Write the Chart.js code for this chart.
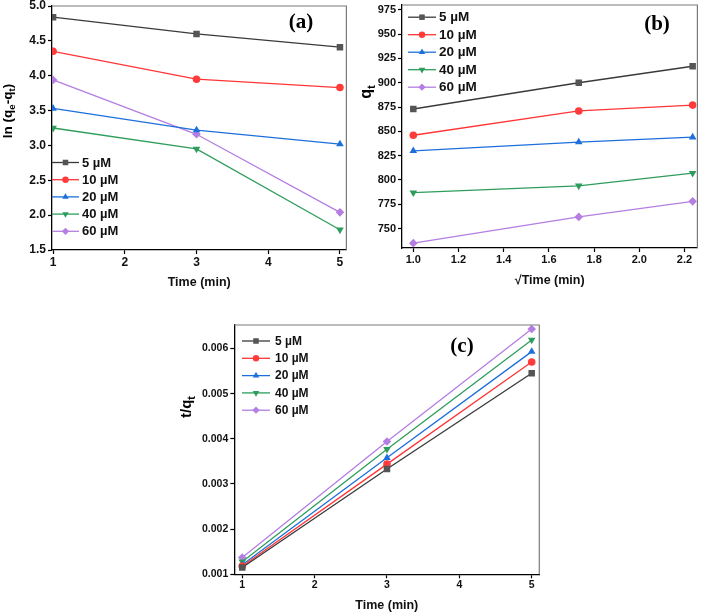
<!DOCTYPE html>
<html>
<head>
<meta charset="utf-8">
<script src="https://cdn.jsdelivr.net/npm/chart.js@4.4.0/dist/chart.umd.min.js"></script>
<style>
  body { margin: 0; background: #fff; width: 702px; height: 616px; position: relative; overflow: hidden; }
  canvas { position: absolute; }
</style>
</head>
<body>
<canvas id="chartA" width="351" height="300" style="left:0;top:0"></canvas>
<canvas id="chartB" width="351" height="300" style="left:351px;top:0"></canvas>
<canvas id="chartC" width="370" height="316" style="left:180px;top:300px"></canvas>
<script>
// series shared by all three panels
var seriesNames = ['5 \u00b5M', '10 \u00b5M', '20 \u00b5M', '40 \u00b5M', '60 \u00b5M'];
var seriesColors = ['#3a3a3a', '#ff3535', '#1d6fdc', '#2e9d5c', '#b47ee2'];
var markerColors = ['#555555', '#ff3b3b', '#1d6fdc', '#2e9d5c', '#b47ee2'];
var pointStyles = ['rect', 'circle', 'triangle', 'triangle', 'rectRot'];
var pointRotations = [0, 0, 0, 180, 0];
var pointSizes = [4.6, 3.8, 4.4, 4.4, 4.3];

// (a) pseudo first order
var timeA = [1, 3, 5];
var lnA = [
  [4.84, 4.60, 4.41],
  [4.35, 3.95, 3.83],
  [3.53, 3.22, 3.02],
  [3.25, 2.95, 1.79],
  [3.94, 3.16, 2.04]
];
var ticksAx = [1, 2, 3, 4, 5];
var ticksAy = [1.5, 2.0, 2.5, 3.0, 3.5, 4.0, 4.5, 5.0];

// (b) intraparticle diffusion
var sqrtTimeB = [1, 1.732, 2.236];
var qtB = [
  [873, 900, 917],
  [846, 871, 877],
  [830, 839, 844],
  [787, 794, 807],
  [735, 762, 778]
];
var ticksBx = [1.0, 1.2, 1.4, 1.6, 1.8, 2.0, 2.2];
var ticksBy = [750, 775, 800, 825, 850, 875, 900, 925, 950, 975];

// (c) pseudo second order
var timeC = [1, 3, 5];
var tqC = [
  [0.00115, 0.00333, 0.00545],
  [0.00118, 0.00344, 0.00570],
  [0.00121, 0.00358, 0.00593],
  [0.00128, 0.00377, 0.00619],
  [0.00137, 0.00394, 0.00643]
];
var ticksCx = [1, 2, 3, 4, 5];
var ticksCy = [0.001, 0.002, 0.003, 0.004, 0.005, 0.006];

var FONT = "'Liberation Sans', Arial, sans-serif";

// draws text made of [string, isSubscript] parts, rotated for y titles
function drawRich(ctx, parts, cx, cy, size, rotate) {
  ctx.save();
  ctx.translate(cx, cy);
  if (rotate) ctx.rotate(-Math.PI / 2);
  ctx.fillStyle = '#000';
  ctx.textBaseline = 'middle';
  ctx.textAlign = 'left';
  var total = 0;
  parts.forEach(function (p) {
    ctx.font = 'bold ' + (p[1] ? size * 0.72 : size) + 'px ' + FONT;
    total += ctx.measureText(p[0]).width;
  });
  var x = -total / 2;
  parts.forEach(function (p) {
    ctx.font = 'bold ' + (p[1] ? size * 0.72 : size) + 'px ' + FONT;
    ctx.fillText(p[0], x, p[1] ? size * 0.32 : 0);
    x += ctx.measureText(p[0]).width;
  });
  ctx.restore();
}

var decorPlugin = {
  id: 'decor',
  afterDraw: function (chart, args, o) {
    var ctx = chart.ctx, a = chart.chartArea;
    // grey top and right frame
    ctx.save();
    ctx.strokeStyle = '#7a7a7a';
    ctx.lineWidth = 1.2;
    ctx.beginPath();
    ctx.moveTo(a.left, a.top);
    ctx.lineTo(a.right, a.top);
    ctx.lineTo(a.right, a.bottom);
    ctx.stroke();
    ctx.restore();

    // legend inside the plot
    var L = o.legend;
    chart.data.datasets.forEach(function (ds, i) {
      var y = L.y + i * L.gap;
      ctx.save();
      ctx.strokeStyle = ds.borderColor;
      ctx.lineWidth = 1.3;
      ctx.beginPath();
      ctx.moveTo(L.x, y);
      ctx.lineTo(L.x + L.len, y);
      ctx.stroke();
      ctx.fillStyle = ds.pointBackgroundColor;
      ctx.strokeStyle = ds.pointBackgroundColor;
      Chart.helpers.drawPoint(ctx, {
        pointStyle: ds.pointStyle, rotation: ds.rotation,
        radius: ds.pointRadius * 0.85, borderWidth: 0
      }, L.x + L.len / 2, y);
      ctx.fillStyle = '#111';
      ctx.font = 'bold ' + L.size + 'px ' + FONT;
      ctx.textBaseline = 'middle';
      ctx.textAlign = 'left';
      ctx.fillText(ds.label, L.x + L.len + L.pad, y + 0.5);
      ctx.restore();
    });

    // y axis title
    drawRich(ctx, o.yTitle.parts, o.yTitle.x, o.yTitle.y, o.yTitle.size, true);

    // panel tag
    ctx.save();
    ctx.fillStyle = '#000';
    ctx.font = 'bold 21px "Liberation Serif", "Times New Roman", serif';
    ctx.textAlign = 'center';
    ctx.textBaseline = 'middle';
    ctx.fillText(o.tag.text, o.tag.x, o.tag.y);
    ctx.restore();
  }
};

function makeChart(id, c) {
  var datasets = seriesNames.map(function (name, i) {
    return {
      label: name,
      data: c.x.map(function (x, j) { return { x: x, y: c.values[i][j] }; }),
      borderColor: seriesColors[i],
      backgroundColor: markerColors[i],
      pointBackgroundColor: markerColors[i],
      pointBorderColor: markerColors[i],
      borderWidth: 1.3,
      pointStyle: pointStyles[i],
      rotation: pointRotations[i],
      pointRadius: pointSizes[i],
      pointBorderWidth: 0,
      tension: 0
    };
  });

  function fitY(s) {
    s.width = c.yWidth;
    s.paddingTop = 0; s.paddingBottom = 0; s.paddingLeft = 0; s.paddingRight = 0;
  }
  function fitX(s) {
    s.height = c.xHeight;
    s.paddingTop = 0; s.paddingBottom = 0; s.paddingLeft = 0; s.paddingRight = 0;
  }

  return new Chart(document.getElementById(id), {
    type: 'line',
    data: { datasets: datasets },
    plugins: [decorPlugin],
    options: {
      responsive: false,
      animation: false,
      layout: { padding: c.padding },
      plugins: {
        legend: { display: false },
        tooltip: { enabled: false },
        decor: { legend: c.legend, yTitle: c.yTitle, tag: c.tag }
      },
      scales: {
        x: {
          type: 'linear',
          min: c.xMin, max: c.xMax,
          afterBuildTicks: function (s) { s.ticks = c.xTicks.map(function (v) { return { value: v }; }); },
          afterFit: fitX,
          grid: { drawOnChartArea: false, drawTicks: true, tickLength: 4, color: '#000', tickWidth: 1.2 },
          border: { display: true, color: '#000', width: 1.3 },
          ticks: {
            color: '#111', padding: 1, maxRotation: 0, autoSkip: false,
            font: { family: FONT, weight: 'bold', size: c.tickSize },
            callback: function (v) { return c.xFmt(v); }
          },
          title: {
            display: true, text: c.xTitle, color: '#111',
            font: { family: FONT, weight: 'bold', size: 12.5 },
            padding: { top: 0, bottom: c.xTitlePad }
          }
        },
        y: {
          type: 'linear',
          min: c.yMin, max: c.yMax,
          afterBuildTicks: function (s) { s.ticks = c.yTicks.map(function (v) { return { value: v }; }); },
          afterFit: fitY,
          grid: { drawOnChartArea: false, drawTicks: true, tickLength: 4, color: '#000', tickWidth: 1.2 },
          border: { display: true, color: '#000', width: 1.3 },
          ticks: {
            color: '#111', padding: 2, autoSkip: false,
            font: { family: FONT, weight: 'bold', size: c.tickSize },
            callback: function (v) { return c.yFmt(v); }
          }
        }
      }
    }
  });
}

makeChart('chartA', {
  x: timeA, values: lnA,
  xMin: 0.985, xMax: 5.09, yMin: 1.5, yMax: 5.0,
  xTicks: ticksAx, yTicks: ticksAy,
  xFmt: function (v) { return String(v); },
  yFmt: function (v) { return v.toFixed(1); },
  yWidth: 52, xHeight: 50, padding: { left: 0, top: 6, right: 3, bottom: 0 },
  tickSize: 12, xTitle: 'Time (min)', xTitlePad: 9.5,
  legend: { x: 52, y: 162.5, gap: 17.2, len: 27, pad: 3, size: 13 },
  yTitle: { parts: [['ln (q', 0], ['e', 1], ['-q', 0], ['t', 1], [')', 0]], x: 8, y: 111, size: 13.5 },
  tag: { text: '(a)', x: 301, y: 23 }
});

makeChart('chartB', {
  x: sqrtTimeB, values: qtB,
  xMin: 0.95, xMax: 2.257, yMin: 730, yMax: 980,
  xTicks: ticksBx, yTicks: ticksBy,
  xFmt: function (v) { return v.toFixed(1); },
  yFmt: function (v) { return String(v); },
  yWidth: 51, xHeight: 52, padding: { left: 0, top: 5, right: 3, bottom: 0 },
  tickSize: 11, xTitle: '\u221aTime (min)', xTitlePad: 11.5,
  legend: { x: 57, y: 17.2, gap: 17.5, len: 28, pad: 3, size: 13.5 },
  yTitle: { parts: [['q', 0], ['t', 1]], x: 15.5, y: 92, size: 16 },
  tag: { text: '(b)', x: 306, y: 25 }
});

makeChart('chartC', {
  x: timeC, values: tqC,
  xMin: 0.89, xMax: 5.105, yMin: 0.001, yMax: 0.00652,
  xTicks: ticksCx, yTicks: ticksCy,
  xFmt: function (v) { return String(v); },
  yFmt: function (v) { return v.toFixed(3); },
  yWidth: 54.3, xHeight: 41.7, padding: { left: 0, top: 25, right: 10.7, bottom: 0 },
  tickSize: 10.5, xTitle: 'Time (min)', xTitlePad: 2.5,
  legend: { x: 62, y: 41, gap: 17.3, len: 28, pad: 5, size: 12 },
  yTitle: { parts: [['t/q', 0], ['t', 1]], x: 7, y: 107, size: 15 },
  tag: { text: '(c)', x: 282, y: 47 }
});
</script>
</body>
</html>
